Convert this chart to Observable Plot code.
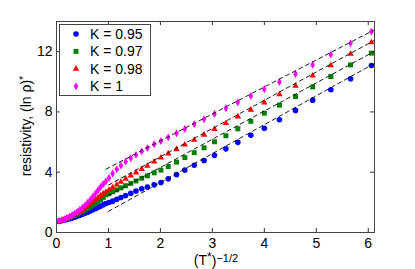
<!DOCTYPE html>
<html>
<head>
<meta charset="utf-8">
<script src="https://cdn.jsdelivr.net/npm/d3@7"></script>
<script src="https://cdn.jsdelivr.net/npm/@observablehq/plot@0.6"></script>
<style>
  html, body { margin: 0; padding: 0; background: white; }
</style>
</head>
<body>
<div id="chart"></div>
<script>
// ---- data ----
const seriesLabels = ["K = 0.95", "K = 0.97", "K = 0.98", "K = 1"];
const seriesColors = ["#0000ff", "#008000", "#ff0000", "#ff00ff"];
const seriesSymbols = ["circle", "square", "triangle", "diamond"];
const seriesRadius = [2.8, 2.8, 2.4, 2.4];

const xTicks = [0, 1, 2, 3, 4, 5, 6];
const yTicks = [0, 4, 8, 12];

// dense low-x part (T*^-1/2 < 1)
const xDense = [0.05, 0.1, 0.15, 0.2, 0.25, 0.3, 0.35, 0.4, 0.45, 0.5, 0.55, 0.6, 0.65, 0.7, 0.75, 0.8, 0.85, 0.9];
const yDenseK095 = [0.75, 0.79, 0.83, 0.87, 0.92, 0.97, 1.02, 1.08, 1.14, 1.21, 1.28, 1.35, 1.43, 1.51, 1.59, 1.67, 1.75, 1.84];
const yDenseK097 = [0.75, 0.80, 0.86, 0.92, 0.99, 1.06, 1.14, 1.22, 1.31, 1.40, 1.50, 1.60, 1.71, 1.82, 1.94, 2.06, 2.19, 2.33];
const yDenseK098 = [0.75, 0.81, 0.88, 0.95, 1.03, 1.12, 1.21, 1.31, 1.42, 1.53, 1.65, 1.77, 1.90, 2.03, 2.17, 2.31, 2.45, 2.58];
const yDenseK1   = [0.76, 0.82, 0.88, 0.96, 1.05, 1.15, 1.26, 1.38, 1.51, 1.65, 1.80, 1.97, 2.16, 2.37, 2.58, 2.80, 3.02, 3.22];

// sparse high-x part
const xSparse = [0.95, 1.01, 1.08, 1.16, 1.24, 1.33, 1.43, 1.53, 1.64, 1.75, 1.88, 2.01, 2.15, 2.31, 2.47, 2.65, 2.84, 3.04, 3.26, 3.49, 3.74, 4.00, 4.29, 4.60, 4.93, 5.28, 5.66, 6.06];
const ySparseK095 = [1.92, 1.99, 2.08, 2.20, 2.32, 2.45, 2.60, 2.75, 2.90, 3.02, 3.16, 3.32, 3.56, 3.84, 4.14, 4.46, 4.78, 5.12, 5.55, 5.98, 6.45, 6.92, 7.48, 8.10, 8.78, 9.47, 10.20, 11.08];
const ySparseK097 = [2.50, 2.58, 2.70, 2.83, 2.96, 3.10, 3.26, 3.42, 3.60, 3.76, 3.96, 4.14, 4.38, 4.67, 4.97, 5.30, 5.62, 6.02, 6.42, 6.88, 7.38, 7.92, 8.45, 9.02, 9.66, 10.35, 11.12, 11.90];
const ySparseK098 = [2.68, 2.82, 2.98, 3.17, 3.36, 3.56, 3.77, 3.98, 4.20, 4.42, 4.70, 4.96, 5.24, 5.52, 5.83, 6.14, 6.48, 6.86, 7.25, 7.69, 8.14, 8.62, 9.16, 9.72, 10.40, 11.08, 11.85, 12.61];
const ySparseK1   = [3.38, 3.62, 3.92, 4.20, 4.45, 4.70, 4.93, 5.15, 5.38, 5.60, 5.85, 6.07, 6.31, 6.59, 6.87, 7.19, 7.51, 7.86, 8.24, 8.64, 9.06, 9.50, 9.99, 10.52, 11.12, 11.80, 12.55, 13.33];

// linear fits (dashed): start and end points
const fitStartX = [1.0, 1.0, 1.0, 0.95];
const fitStartY = [1.40, 2.45, 3.15, 4.20];
const fitEndX = [6.12, 6.12, 6.12, 6.12];
const fitEndY = [11.22, 12.02, 12.75, 13.45];

// ---- build tables ----
const denseY = [yDenseK095, yDenseK097, yDenseK098, yDenseK1];
const sparseY = [ySparseK095, ySparseK097, ySparseK098, ySparseK1];
const seriesPoints = seriesLabels.map((k, i) =>
  xDense.map((x, j) => ({x, y: denseY[i][j]}))
    .concat(xSparse.map((x, j) => ({x, y: sparseY[i][j]}))));
const fits = seriesLabels.flatMap((k, i) => [
  {k, x: fitStartX[i], y: fitStartY[i]},
  {k, x: fitEndX[i], y: fitEndY[i]}
]);

const xDomain = [0, 6.12];
const yDomain = [0, 14];
const tickLenX = 0.075; // in x units (~4px)
const tickLenY = 0.27;  // in y units (~4px)
const FONT = "'Liberation Sans', Arial, Helvetica, sans-serif";

const plot = Plot.plot({
  width: 415,
  height: 269,
  marginLeft: 56,
  marginRight: 41,
  marginTop: 21,
  marginBottom: 37,
  style: {fontFamily: FONT, fontSize: "14px", background: "white", color: "black", overflow: "visible"},
  x: {domain: xDomain},
  y: {domain: yDomain},
  marks: [
    Plot.axisX(xTicks, {tickSize: 0, tickPadding: 6, label: null, fontSize: 14}),
    Plot.axisY(yTicks, {tickSize: 0, tickPadding: 4, label: null, fontSize: 14}),
    // inward ticks on all four sides
    Plot.ruleX(xTicks, {x: d => d, y1: yDomain[0], y2: yDomain[0] + tickLenY, stroke: "#333"}),
    Plot.ruleX(xTicks, {x: d => d, y1: yDomain[1], y2: yDomain[1] - tickLenY, stroke: "#333"}),
    Plot.ruleY(yTicks, {y: d => d, x1: xDomain[0], x2: xDomain[0] + tickLenX, stroke: "#333"}),
    Plot.ruleY(yTicks, {y: d => d, x1: xDomain[1], x2: xDomain[1] - tickLenX, stroke: "#333"}),
    // data points
    ...seriesPoints.map((pts, i) => Plot.dot(pts, {
      x: "x", y: "y", symbol: () => seriesSymbols[i], r: seriesRadius[i],
      fill: seriesColors[i], stroke: "none"
    })),
    // dashed fit lines
    Plot.line(fits, {x: "x", y: "y", z: "k", stroke: "black", strokeWidth: 0.9, strokeDasharray: "4,3.5"}),
    Plot.frame({stroke: "#444", strokeWidth: 1})
  ]
});

document.getElementById("chart").appendChild(plot);

// ---- legend (inside the plot, top-left) and rich-text axis labels ----
const svg = d3.select(plot);
const lg = svg.append("g").attr("font-family", FONT).attr("font-size", 14).attr("text-anchor", "start");
lg.append("rect")
  .attr("x", 59.5).attr("y", 24.5).attr("width", 91).attr("height", 71)
  .attr("fill", "white").attr("stroke", "#444").attr("stroke-width", 1);
const d3Symbols = {circle: d3.symbolCircle, square: d3.symbolSquare, triangle: d3.symbolTriangle, diamond: d3.symbolDiamond};
seriesLabels.forEach((lab, i) => {
  const cy = 34 + i * 17.4;
  lg.append("path")
    .attr("transform", `translate(76,${cy})`)
    .attr("d", d3.symbol(d3Symbols[seriesSymbols[i]], Math.PI * seriesRadius[i] ** 2)())
    .attr("fill", seriesColors[i]);
  lg.append("text")
    .attr("x", 90).attr("y", cy).attr("dy", "0.36em")
    .attr("text-anchor", "start")
    .attr("fill", "black")
    .text(lab);
});

// y label: resistivity, (ln ρ)*
const yl = svg.append("text")
  .attr("transform", "translate(31,126) rotate(-90)")
  .attr("text-anchor", "middle")
  .attr("font-family", FONT).attr("font-size", 14).attr("fill", "black");
yl.append("tspan").text("resistivity, (ln ρ)");
yl.append("tspan").attr("dy", "-0.4em").attr("font-size", 11).text("*");

// x label: (T*)^-1/2
const xl = svg.append("text")
  .attr("x", 216).attr("y", 265)
  .attr("text-anchor", "middle")
  .attr("font-family", FONT).attr("font-size", 14).attr("fill", "black");
xl.append("tspan").text("(T");
xl.append("tspan").attr("dy", "-0.3em").attr("font-size", 12).text("*");
xl.append("tspan").attr("dy", "0.3em").text(")");
xl.append("tspan").attr("dy", "-0.35em").attr("font-size", 11).text("−1/2");
</script>
</body>
</html>
